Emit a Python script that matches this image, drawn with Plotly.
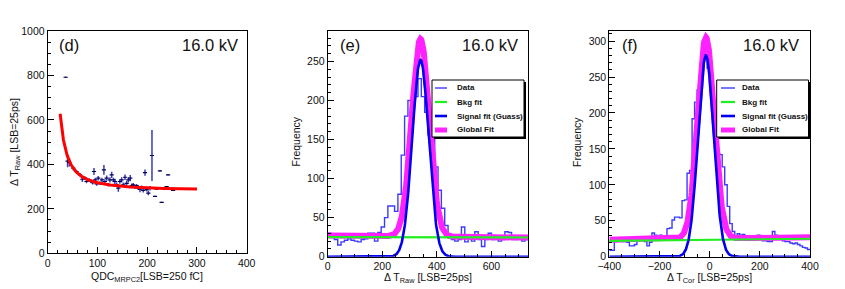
import numpy as np
import plotly.graph_objects as go

W, H = 845, 289
OFF = 8  # default page body margin; figure is sized to fit the visible window
FW, FH = W - OFF, H - OFF

# ---------------- data ----------------
# (d) slewing scatter: QDC vs delta T raw
d_x = [36, 40, 43.5, 51.5, 58, 65, 69.6, 75, 78, 83, 86.4, 90.4, 93, 95.7, 98.4, 101.7, 105, 109,
       113, 115, 118.5, 122, 125, 128.6, 132, 135, 138.6, 142, 145, 148.6, 152, 155.4, 158.7, 162,
       165.9, 168.8, 172, 175.5, 178.8, 182, 185.5, 188.8, 192, 195.6, 199, 202.3, 205.7, 209.6,
       215.7, 219, 225.6, 229, 235.7, 239, 242, 252]
d_y = [792, 415, 408, 383, 368, 353, 333, 338, 323, 330, 325, 318, 368, 330, 312, 338, 315, 330,
       375, 323, 338, 308, 330, 353, 330, 323, 308, 293, 323, 330, 308, 342, 315, 330,
       338, 304, 308, 297, 304, 293, 289, 297, 283, 363, 286, 271, 293, 440,
       256, 289, 371, 229, 293, 300, 353, 283]
d_err = [3, 28, 18, 10, 8, 8, 12, 8, 8, 8, 8, 8, 16, 10, 8, 10, 8, 10,
         22, 10, 12, 8, 12, 14, 10, 12, 10, 16, 10, 12, 10, 12, 10, 12,
         14, 10, 8, 8, 8, 8, 14, 8, 10, 14, 8, 10, 10, 115,
         3, 3, 3, 3, 3, 3, 3, 3]
# slewing fit parameters: p0 + p1/x + p2/x^2
d_fit_p = [280.4, 2011.0, 167000.0]
d_fit_range = [25, 300]

# (e) delta T raw histogram, 60 bins over 0..735
e_range = [0, 735]
e_counts = [30, 27, 22, 15, 19, 21, 23, 21, 20, 19,
            22, 23, 30, 30, 20, 31, 38, 50, 65, 65,
            58, 80, 130, 180, 200, 192, 205, 228, 205, 185,
            156, 150, 115, 85, 62, 40, 24, 22, 20, 22,
            38, 19, 24, 20, 32, 22, 13, 22, 30, 22,
            24, 20, 22, 32, 31, 22, 22, 24, 20, 22]
e_sig = dict(A=252, mu=340, sigma=30)
e_glob = dict(A=253, mu=340, sigma=32, b0=27.0, b1=24.5)
e_bkg = [25.0, 24.6]

# (f) delta T corrected histogram, 80 bins over -400..400
f_range = [-400, 400]
f_counts = [9, 9, 21, 21, 22, 21, 21, 20, 15, 15,
            17, 25, 26, 25, 21, 15, 20, 33, 30, 26,
            30, 26, 26, 39, 40, 51, 55, 55, 54, 78,
            79, 116, 120, 192, 215, 232, 255, 272, 276, 262,
            230, 205, 192, 144, 142, 125, 100, 70, 46, 35,
            28, 32, 30, 31, 28, 25, 26, 28, 24, 30,
            27, 22, 22, 21, 21, 35, 30, 27, 26, 22,
            21, 21, 19, 18, 19, 17, 15, 13, 12, 10]
f_sig = dict(A=280, mu=-15, sigma=31)
f_glob = dict(A=280, mu=-15, sigma=33, b0=23.5, b1=27.0)
f_bkg = [22.0, 25.0]

legend_labels = ["Data", "Bkg fit", "Signal fit (Guass)", "Global Fit"]

# ---------------- helpers ----------------
def X(px):
    return (px - OFF) / FW

def Y(py):
    return 1 - (py - OFF) / FH

FONT = "Liberation Sans, Arial, sans-serif"
C_HIST = "#3b3bff"
C_SIG = "#0000ee"
C_BKG = "#22ee22"
C_GLOB = "#ff22ff"

fig = go.Figure()

# (d)
fx = np.linspace(d_fit_range[0], d_fit_range[1], 300)
fy = d_fit_p[0] + d_fit_p[1] / fx + d_fit_p[2] / fx ** 2
fig.add_trace(go.Scatter(x=d_x, y=d_y, mode="markers", xaxis="x", yaxis="y",
                         marker=dict(symbol="line-ew", size=3, color="#000055",
                                     line=dict(width=1.2, color="#000055")),
                         error_y=dict(type="data", array=d_err, visible=True, width=0,
                                      thickness=1.5, color="#3a3ab5"),
                         showlegend=False, hoverinfo="skip"))
fig.add_trace(go.Scatter(x=fx, y=fy, mode="lines", xaxis="x", yaxis="y",
                         line=dict(color="#ff0000", width=3), showlegend=False))


def hist_panel(counts, rng, sig, glob, bkg, xa, ya):
    n = len(counts)
    edges = np.linspace(rng[0], rng[1], n + 1)
    hx = list(edges)
    hy = list(counts) + [counts[-1]]
    fig.add_trace(go.Scatter(x=hx, y=hy, mode="lines", line_shape="hv", xaxis=xa, yaxis=ya,
                             line=dict(color=C_HIST, width=1.4), showlegend=False))
    gx = np.linspace(rng[0], rng[1], 600)
    t = (gx - rng[0]) / (rng[1] - rng[0])
    gb = glob["b0"] + (glob["b1"] - glob["b0"]) * t
    gy = gb + glob["A"] * np.exp(-0.5 * ((gx - glob["mu"]) / glob["sigma"]) ** 2)
    fig.add_trace(go.Scatter(x=gx, y=gy, mode="lines", xaxis=xa, yaxis=ya,
                             line=dict(color=C_GLOB, width=6), showlegend=False))
    fig.add_trace(go.Scatter(x=[rng[0], rng[1]], y=bkg, mode="lines", xaxis=xa, yaxis=ya,
                             line=dict(color=C_BKG, width=2.2), showlegend=False))
    sy = sig["A"] * np.exp(-0.5 * ((gx - sig["mu"]) / sig["sigma"]) ** 2)
    fig.add_trace(go.Scatter(x=gx, y=sy, mode="lines", xaxis=xa, yaxis=ya,
                             line=dict(color=C_SIG, width=2.6), showlegend=False))


hist_panel(e_counts, e_range, e_sig, e_glob, e_bkg, "x2", "y2")
hist_panel(f_counts, f_range, f_sig, f_glob, f_bkg, "x3", "y3")

# ---------------- axes ----------------
tickfont = dict(family=FONT, size=10.5, color="#111")


def ax(domain, rng, dtick, minor, anchor):
    return dict(domain=domain, range=rng, dtick=dtick, tick0=0, ticks="inside", ticklen=6,
                tickwidth=1, tickcolor="black", showline=True, mirror=True, linecolor="black",
                linewidth=1, showgrid=False, zeroline=False, tickfont=tickfont, anchor=anchor,
                automargin=False,
                minor=dict(dtick=minor, tick0=0, ticks="inside", ticklen=3, tickcolor="black",
                           showgrid=False))


fig.update_layout(
    width=FW, height=FH, margin=dict(l=0, r=0, t=0, b=0, pad=0, autoexpand=False),
    paper_bgcolor="white", plot_bgcolor="white", showlegend=False,
    font=dict(family=FONT, color="#111"),
    xaxis=ax([X(47.7), X(246.7)], [0, 400], 100, 20, "y"),
    yaxis=ax([Y(253.3), Y(31)], [0, 1000], 200, 50, "x"),
    xaxis2=ax([X(327.7), X(528.3)], [0, 735], 200, 50, "y2"),
    yaxis2=ax([Y(256.7), Y(31)], [0, 289], 50, 10, "x2"),
    xaxis3=ax([X(609.3), X(810)], [-400, 400], 200, 50, "y3"),
    yaxis3=ax([Y(256.7), Y(31)], [0, 314], 50, 10, "x3"),
)

# ---------------- annotations ----------------
ann = []


def text(px, py, s, size, xanchor="center", yanchor="middle", angle=0, bold=False):
    ann.append(dict(x=X(px), y=Y(py), xref="paper", yref="paper", text=("<b>%s</b>" % s) if bold else s,
                    showarrow=False, xanchor=xanchor, yanchor=yanchor, textangle=angle,
                    font=dict(family=FONT, size=size, color="#111")))


# panel labels
text(57, 45, "(d)", 16.5, xanchor="left")
text(240, 45, "16.0 kV", 16.5, xanchor="right")
text(338, 45, "(e)", 16.5, xanchor="left")
text(520, 45, "16.0 kV", 16.5, xanchor="right")
text(620, 45, "(f)", 16.5, xanchor="left")
text(801, 45, "16.0 kV", 16.5, xanchor="right")

# axis titles
text(15, 142, "Δ T<sub>Raw</sub> [LSB=25ps]", 10.5, angle=-90)
text(147, 277, "QDC<sub>MRPC2</sub>[LSB=250 fC]", 10.5)
text(295.5, 142, "Frequency", 10.5, angle=-90)
text(428, 278, "Δ T<sub>Raw</sub> [LSB=25ps]", 10.5)
text(577, 142, "Frequency", 10.5, angle=-90)
text(709.5, 278, "Δ T<sub>Cor</sub> [LSB=25ps]", 10.5)

# legends (drawn manually)
shapes = []


def legend(x0, x1, y0, y1, lx0, lx1, tx, rows):
    shapes.append(dict(type="rect", xref="paper", yref="paper", x0=X(x0 + 2), x1=X(x1 + 2),
                       y0=Y(y1 + 2), y1=Y(y0 + 2), fillcolor="black", line=dict(width=0)))
    shapes.append(dict(type="rect", xref="paper", yref="paper", x0=X(x0), x1=X(x1),
                       y0=Y(y1), y1=Y(y0), fillcolor="white", line=dict(color="black", width=1)))
    styles = [(C_HIST, 1.4), (C_BKG, 2.2), (C_SIG, 2.6), (C_GLOB, 5)]
    for (c, w), ry, lab in zip(styles, rows, legend_labels):
        shapes.append(dict(type="line", xref="paper", yref="paper", x0=X(lx0), x1=X(lx1),
                           y0=Y(ry), y1=Y(ry), line=dict(color=c, width=w)))
        text(tx, ry, lab, 8, xanchor="left", bold=True)


rows = [88, 102, 116, 130]
legend(432, 524, 80, 137, 435, 447, 455, rows)
legend(716.7, 808.5, 80, 137, 721, 735, 740, rows)

fig.update_layout(annotations=ann, shapes=shapes)

fig.write_html("out.html")
